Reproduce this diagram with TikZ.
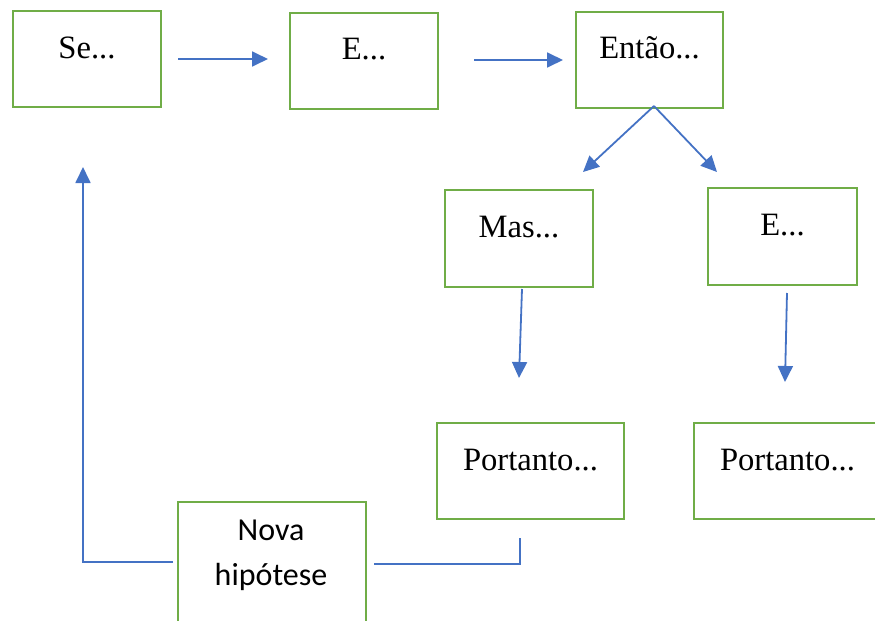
\documentclass[tikz,border=0pt]{standalone}
\usepackage{fontspec}
\setmainfont{Liberation Serif}
\newfontfamily\calib{Carlito}
\usetikzlibrary{arrows.meta}
\definecolor{boxgreen}{RGB}{112,173,71}
\definecolor{arrblue}{RGB}{68,114,196}
\tikzset{
  box/.style={draw=boxgreen, line width=1pt, rectangle, inner sep=0pt,
    font=\fontsize{16.3}{20}\selectfont, text height=23.5pt, text depth=24.5pt},
  conn/.style={draw=arrblue, line width=0.9pt},
  arr/.style={conn, -{Triangle[length=8pt,width=7.5pt]}}
}
\begin{document}
\begin{tikzpicture}[x=0.5pt,y=-0.5pt]
\useasboundingbox (0,0) rectangle (875,621);
\clip (0,0) rectangle (875,621);
% boxes
\node[box, minimum width=74pt, minimum height=48pt] (se) at (87,59) {Se...};
\node[box, minimum width=74pt, minimum height=48pt] (e1) at (364,61) {E...};
\node[box, minimum width=73.5pt, minimum height=47.5pt] (entao) at (649.5,59.5) {Então...};
\node[box, minimum width=74pt, minimum height=48.5pt] (mas) at (519,238.5) {Mas...};
\node[box, minimum width=74.5pt, minimum height=48.5pt] (e2) at (782.5,236.5) {E...};
\node[box, minimum width=93.5pt, minimum height=48pt] (port1) at (530.5,471) {Portanto...};
\node[box, minimum width=93.5pt, minimum height=48pt] (port2) at (787.5,471) {Portanto...};
\node[draw=boxgreen, line width=1pt, inner sep=0pt, minimum width=94pt, minimum height=70pt, anchor=north] (nova) at (272,501) {};
\node[anchor=base, align=center, inner sep=0pt, font=\calib\fontsize{16}{22.5}\selectfont] (novatxt) at (271,585) {Nova\\hipótese};
% coordinates for free connector ends
\coordinate (a1s) at (178,59);  \coordinate (a1e) at (268,59);
\coordinate (a2s) at (474,60);  \coordinate (a2e) at (563,60);
\coordinate (a3s) at (654,106); \coordinate (a3e) at (583,172);
\coordinate (a4e) at (717,172);
\coordinate (a5s) at (522,289); \coordinate (a5e) at (519,378);
\coordinate (a6s) at (787,293); \coordinate (a6e) at (785,382);
\coordinate (r1) at (374,564); \coordinate (r2) at (520,564); \coordinate (r3) at (520,538);
\coordinate (l1) at (173,562); \coordinate (l2) at (83,562); \coordinate (l3) at (83,167);
% connectors
\draw[arr] (a1s) -- (a1e);
\draw[arr] (a2s) -- (a2e);
\draw[arr] (a3s) -- (a3e);
\draw[arr] (a3s) -- (a4e);
\draw[arr] (a5s) -- (a5e);
\draw[arr] (a6s) -- (a6e);
\draw[conn] (r1) -- (r2) -- (r3);
\draw[arr] (l1) -- (l2) -- (l3);
\end{tikzpicture}
\end{document}
